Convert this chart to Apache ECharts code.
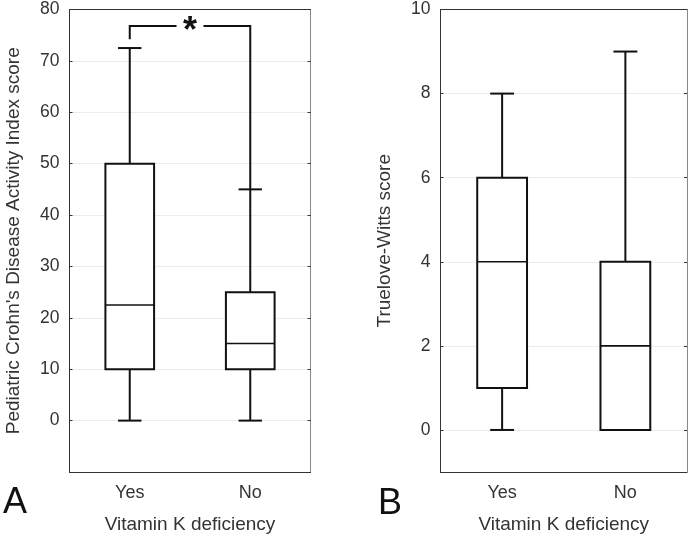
<!DOCTYPE html>
<html>
<head>
<meta charset="utf-8">
<script src="https://cdn.jsdelivr.net/npm/echarts@6/dist/echarts.min.js"></script>
<style>
html,body{margin:0;padding:0;background:#fff;}
#chart{width:692px;height:539px;}
</style>
</head>
<body>
<div id="chart"></div>
<script>
// ---- data ----
const categories = ['Yes', 'No'];
// [min, Q1, median, Q3, max]
const pcdaiYes = [0, 10, 22.5, 50, 72.5];
const pcdaiNo  = [0, 10, 15, 25, 45];
const twYes    = [0, 1, 4, 6, 8];
const twNo     = [0, 0, 2, 4, 9];
// significance bracket: [start y on "Yes", top y, end y on "No"]
const bracketValues = [74.2, 76.8, 45];
const pcdaiTicks = [-10, 80, 10]; // min, max, interval
const twRange = [-1, 10];

const FONT = '"Liberation Sans", Arial, sans-serif';
const INK = '#111';

function boxItem(catIdx, s) { return [catIdx].concat(s); }

function renderBox(params, api) {
  const c = api.value(0);
  const pMin = api.coord([c, api.value(1)]);
  const pQ1 = api.coord([c, api.value(2)]);
  const pMed = api.coord([c, api.value(3)]);
  const pQ3 = api.coord([c, api.value(4)]);
  const pMax = api.coord([c, api.value(5)]);
  const band = api.size([1, 0])[0];
  const hb = band * 0.202, hc = band * 0.097;
  const x = pMin[0];
  const ls = { stroke: INK, lineWidth: 2, fill: null };
  return {
    type: 'group',
    children: [
      { type: 'line', shape: { x1: x, y1: pMax[1], x2: x, y2: pQ3[1] }, style: ls },
      { type: 'line', shape: { x1: x, y1: pMin[1], x2: x, y2: pQ1[1] }, style: ls },
      { type: 'line', shape: { x1: x - hc, y1: pMax[1], x2: x + hc, y2: pMax[1] }, style: ls },
      { type: 'line', shape: { x1: x - hc, y1: pMin[1], x2: x + hc, y2: pMin[1] }, style: ls },
      { type: 'rect', shape: { x: x - hb, y: pQ3[1], width: 2 * hb, height: pQ1[1] - pQ3[1] },
        style: { stroke: INK, lineWidth: 2, fill: '#fff' } },
      { type: 'line', shape: { x1: x - hb, y1: pMed[1], x2: x + hb, y2: pMed[1] },
        style: { stroke: INK, lineWidth: 1.6 } }
    ]
  };
}

function renderBracket(params, api) {
  const a0 = api.coord([0, api.value(0)]);
  const aTop = api.coord([0, api.value(1)]);
  const bTop = api.coord([1, api.value(1)]);
  const b1 = api.coord([1, api.value(2)]);
  const band = api.size([1, 0])[0];
  const gap = band * 0.112;
  const mid = (aTop[0] + bTop[0]) / 2;
  const ls = { stroke: INK, lineWidth: 2, fill: null };
  return {
    type: 'group',
    children: [
      { type: 'polyline', shape: { points: [[a0[0], a0[1]], [aTop[0], aTop[1]], [mid - gap, aTop[1]]] }, style: ls },
      { type: 'polyline', shape: { points: [[mid + gap, bTop[1]], [bTop[0], bTop[1]], [b1[0], b1[1]]] }, style: ls },
      { type: 'text', x: mid, y: aTop[1] + 6,
        style: { text: '*', fontSize: 36, fontWeight: 'bold', fontFamily: FONT, fill: INK, align: 'center', verticalAlign: 'middle' } }
    ]
  };
}

const tickLabel = { fontFamily: FONT, fontSize: 17.5, color: '#333' };
const nameStyle = { fontFamily: FONT, fontSize: 19, color: '#333' };

function xAxes(gridIndex) {
  return [
    {
      type: 'category', gridIndex, data: categories, position: 'bottom',
      axisLine: { onZero: false, lineStyle: { color: '#333', width: 1 } },
      axisTick: { inside: true, length: 3, alignWithLabel: true, lineStyle: { color: '#333' } },
      axisLabel: Object.assign({ margin: 12 }, tickLabel, { fontSize: 18 }),
      name: 'Vitamin K deficiency', nameLocation: 'middle', nameGap: 43,
      nameTextStyle: nameStyle
    },
    {
      type: 'category', gridIndex, data: categories, position: 'top',
      axisLine: { onZero: false, lineStyle: { color: '#333', width: 1 } },
      axisTick: { inside: true, length: 3, alignWithLabel: true, lineStyle: { color: '#333' } },
      axisLabel: { show: false }
    }
  ];
}

function yAxes(gridIndex, range, interval, name, splitNumber) {
  const base = { type: 'value', gridIndex, min: range[0], max: range[1] };
  if (interval) base.interval = interval;
  if (splitNumber) base.splitNumber = splitNumber;
  return [
    Object.assign({}, base, {
      position: 'left',
      axisLine: { show: true, onZero: false, lineStyle: { color: '#333', width: 1 } },
      axisTick: { show: true, inside: true, length: 3, lineStyle: { color: '#333' } },
      axisLabel: Object.assign({ margin: 10, showMinLabel: false,
        formatter: v => (v < 0 ? '' : String(v)) }, tickLabel),
      splitLine: { show: true, lineStyle: { color: '#ececec', width: 1 } },
      name, nameLocation: 'middle', nameGap: 46,
      nameTextStyle: nameStyle
    }),
    Object.assign({}, base, {
      position: 'right',
      axisLine: { show: true, onZero: false, lineStyle: { color: '#888', width: 1 } },
      axisTick: { show: true, inside: true, length: 3, lineStyle: { color: '#333' } },
      axisLabel: { show: false },
      splitLine: { show: false }
    })
  ];
}

const option = {
  animation: false,
  backgroundColor: '#fff',
  grid: [
    { left: 69.5, top: 9.5, width: 241, height: 462.5 },
    { left: 440.5, top: 9.5, width: 246.5, height: 462.5 }
  ],
  xAxis: xAxes(0).concat(xAxes(1)),
  yAxis: yAxes(0, [pcdaiTicks[0], pcdaiTicks[1]], pcdaiTicks[2], "Pediatric Crohn's Disease Activity Index score")
    .concat(yAxes(1, twRange, null, 'Truelove-Witts score', 5)),
  graphic: [
    { type: 'text', left: 3, top: 485, style: { text: 'A', fontSize: 36, fontFamily: FONT, fill: '#111' } },
    { type: 'text', left: 378, top: 486, style: { text: 'B', fontSize: 36, fontFamily: FONT, fill: '#111' } }
  ],
  series: [
    { type: 'custom', xAxisIndex: 0, yAxisIndex: 0, renderItem: renderBox, clip: false,
      encode: { x: 0, y: [1, 2, 3, 4, 5] },
      data: [boxItem(0, pcdaiYes), boxItem(1, pcdaiNo)] },
    { type: 'custom', xAxisIndex: 0, yAxisIndex: 0, renderItem: renderBracket, clip: false,
      encode: { y: [0, 1, 2] },
      data: [bracketValues] },
    { type: 'custom', xAxisIndex: 2, yAxisIndex: 2, renderItem: renderBox, clip: false,
      encode: { x: 0, y: [1, 2, 3, 4, 5] },
      data: [boxItem(0, twYes), boxItem(1, twNo)] }
  ]
};

const chart = echarts.init(document.getElementById('chart'), null, { renderer: 'canvas' });
chart.setOption(option);
</script>
</body>
</html>
